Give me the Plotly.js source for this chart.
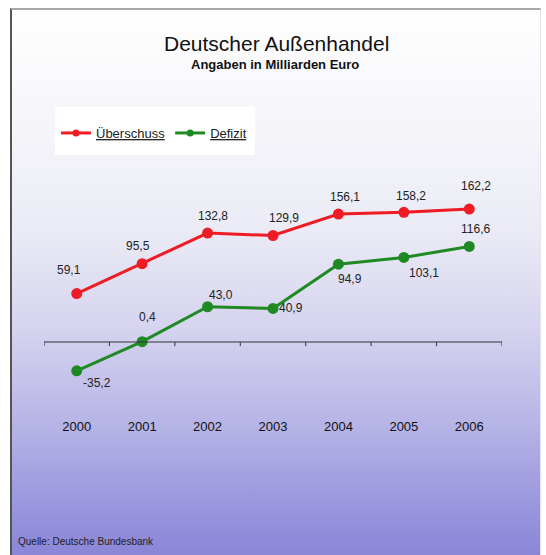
<!DOCTYPE html>
<html>
<head>
<meta charset="utf-8">
<script src="https://cdn.plot.ly/plotly-3.0.1.min.js"></script>
<style>
html,body{margin:0;padding:0;background:#fff;width:546px;height:555px;overflow:hidden;}
#bg{position:absolute;left:10px;top:8px;width:528px;height:547px;
 border-left:2px solid #555;border-top:2px solid #a8a8a8;border-right:1px solid #e4e4ee;
 background:linear-gradient(to bottom,#ffffff 0%,#f6f6fa 20%,#ebebf6 40%,#d6d4ef 58%,#b8b5e7 75%,#9f9bdf 88%,#8a85d7 100%);}
#chart{position:absolute;left:0;top:0;width:546px;height:555px;}
</style>
</head>
<body>
<div id="bg"></div>
<div id="chart"></div>
<script>
const years = ["2000","2001","2002","2003","2004","2005","2006"];
const ueberschuss = [59.1, 95.5, 132.8, 129.9, 156.1, 158.2, 162.2];
const defizit = [-35.2, 0.4, 43.0, 40.9, 94.9, 103.1, 116.6];
const seriesNames = ["Überschuss", "Defizit"];

const fmt = v => v.toFixed(1).replace('.', ',');

// label offsets in px (style only)
const redShift = [[-8,24],[-4,18],[5,17],[11,18],[7,17],[7,16],[7,23]];
const greenShift = [[20,-12],[5,25],[13,12],[18,0],[12,-15],[20,-16],[6,17]];

const narrow = "Liberation Sans Narrow, Arial Narrow, Liberation Sans, Arial";
const lblFont = {family:narrow, size:12, color:"#222"};
const RED = '#ee1c24', GREEN = '#1f8a23';

// plot area geometry for paper conversion
const L=44, R=502, T=180, B=417;
const px2x = p => (p-L)/(R-L);
const py2y = p => (B-p)/(B-T);

const traces = [
 {x: years, y: ueberschuss, name: seriesNames[0], type:'scatter', mode:'lines+markers', showlegend:false,
  line:{color:RED, width:3}, marker:{color:RED, size:11}},
 {x: years, y: defizit, name: seriesNames[1], type:'scatter', mode:'lines+markers', showlegend:false,
  line:{color:GREEN, width:3}, marker:{color:GREEN, size:11}},
 // legend entries (smaller markers as in the reference)
 {x:[null], y:[null], name:'<span style="text-decoration:underline">'+seriesNames[0]+'</span>', type:'scatter', mode:'lines+markers',
  line:{color:RED, width:3}, marker:{color:RED, size:7}},
 {x:[null], y:[null], name:'<span style="text-decoration:underline">'+seriesNames[1]+'</span>', type:'scatter', mode:'lines+markers',
  line:{color:GREEN, width:3}, marker:{color:GREEN, size:7}}
];

const annotations = [];
years.forEach((yr,i)=>{
  annotations.push({x: i, y: ueberschuss[i], text: fmt(ueberschuss[i]), showarrow:false,
    xshift: redShift[i][0], yshift: redShift[i][1], font: lblFont});
  annotations.push({x: i, y: defizit[i], text: fmt(defizit[i]), showarrow:false,
    xshift: greenShift[i][0], yshift: greenShift[i][1], font: lblFont});
});
annotations.push({xref:'paper', yref:'paper', x:px2x(276), y:py2y(44), xanchor:'center', yanchor:'middle',
  text:'Deutscher Außenhandel', showarrow:false,
  font:{family:'Liberation Sans, Arial', size:21, color:'#111'}});
annotations.push({xref:'paper', yref:'paper', x:px2x(275), y:py2y(65), xanchor:'center', yanchor:'middle',
  text:'<b>Angaben in Milliarden Euro</b>', showarrow:false,
  font:{family:'Liberation Sans, Arial', size:13, color:'#111'}});
annotations.push({xref:'paper', yref:'paper', x:px2x(16), y:py2y(541), xanchor:'left', yanchor:'middle',
  text:'Quelle: Deutsche Bundesbank', showarrow:false,
  font:{family:narrow, size:10, color:'#222'}});

const shapes = [];
// white legend box
shapes.push({type:'rect', xref:'paper', yref:'paper', x0:px2x(55), x1:px2x(255), y0:py2y(107), y1:py2y(155),
  fillcolor:'#ffffff', line:{width:0}, layer:'below'});
// zero axis line and tick marks at category boundaries
shapes.push({type:'line', xref:'paper', yref:'y', x0:0, x1:1, y0:0, y1:0, line:{color:'#333', width:1}});
for (let k=0; k<=years.length; k++){
  shapes.push({type:'line', xref:'x', yref:'y', x0:k-0.5, x1:k-0.5, y0:0, y1:-5, line:{color:'#333', width:1}});
}

const layout = {
  width:546, height:555,
  paper_bgcolor:'rgba(0,0,0,0)', plot_bgcolor:'rgba(0,0,0,0)',
  margin:{l:L, r:546-R, t:T, b:555-B},
  xaxis:{type:'category', range:[-0.5, 6.5], showgrid:false, zeroline:false, showline:false, ticks:'',
    tickfont:{family:narrow, size:13, color:'#111'}, fixedrange:true},
  yaxis:{range:[-91.5, 197.6], showgrid:false, zeroline:false, showticklabels:false, ticks:'', showline:false, fixedrange:true},
  showlegend:true,
  legend:{orientation:'h', xref:'container', yref:'container', x:56/546, y:1-118/555, xanchor:'left', yanchor:'top',
    bgcolor:'rgba(0,0,0,0)', borderwidth:0, font:{family:narrow, size:13, color:'#222'},
    itemwidth:30, tracegroupgap:0},
  annotations: annotations,
  shapes: shapes
};

Plotly.newPlot('chart', traces, layout, {displayModeBar:false, staticPlot:true});
</script>
</body>
</html>
